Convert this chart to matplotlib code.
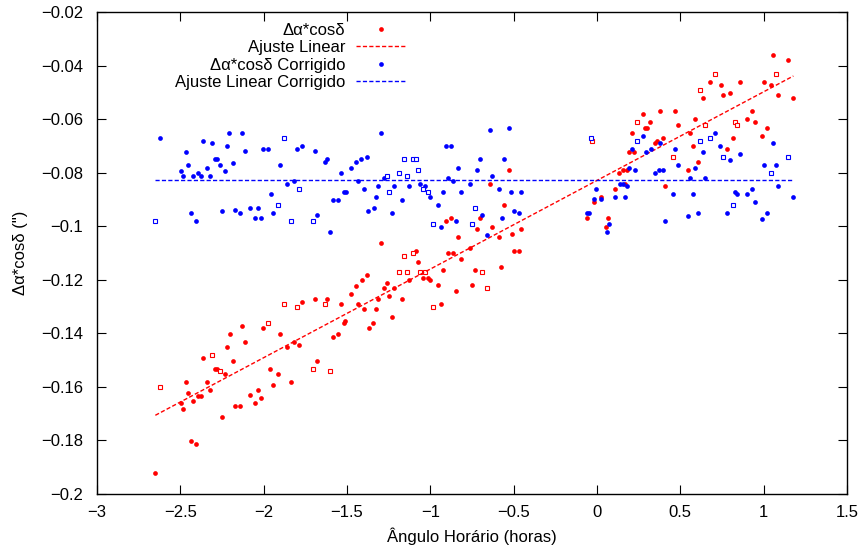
import matplotlib
matplotlib.use("Agg")
import matplotlib.pyplot as plt
import numpy as np

plt.rcParams['font.family'] = ['Liberation Sans', 'DejaVu Sans']

# Delta alpha * cos(delta), filled points
red_x = [-2.650, -2.438, -2.408, -2.250, -2.482, -2.498, -2.422, -2.454, -2.392, -2.376,
         -2.324, -2.468, -2.340, -2.234, -2.292, -2.280, -2.364, -2.186, -2.220, -2.112,
         -2.204, -2.128, -2.004, -1.900, -2.172, -2.142, -2.082, -2.052, -2.032, -2.018,
         -1.946, -1.960, -1.914, -1.834, -1.678, -1.860, -1.818, -1.788, -1.772, -1.692,
         -1.618, -1.538, -1.436, -1.586, -1.554, -1.520, -1.510, -1.478, -1.448,
         -0.528, -0.644, -0.558, -0.702, -0.876, -0.908, -0.718, -0.628, -0.512, -0.454,
         -0.588, -0.832, -1.296, -1.088, -1.074, -0.892, -0.862, -0.816, -0.762, -0.500,
         -0.470, -0.574, -0.732, -0.922, -1.382, -1.412, -1.262, -1.128, -1.046, -1.016,
         -1.000, -0.952, -1.216, -1.280, -1.246, -1.312, -1.172, -0.848, -0.748, -1.400,
         -1.324, -0.936, -1.232, -1.342, -1.368,
         1.058, 1.146, 0.678, 0.742, 0.858, 0.754, 0.798, 0.634, 1.002, 1.044,
         1.086, 1.178, 0.274, 0.378, 0.470, 0.486, 0.318, 0.286, 0.302, 0.210,
         0.590, 0.558, 0.930, 0.898, 0.946, 1.018, 0.990, 0.814, 0.394, 0.358,
         0.346, 0.574, 0.782, 0.190, 0.222, 0.606, 0.546, 0.134, 0.154, 0.178,
         0.170, 0.410, 0.106, 0.026, -0.018, -0.058, 0.068, 0.054]
red_y = [-0.1923, -0.1802, -0.1812, -0.1711, -0.1682, -0.1662, -0.1653, -0.1624, -0.1633, -0.1633,
         -0.1612, -0.1582, -0.1582, -0.1552, -0.1532, -0.1532, -0.1491, -0.1502, -0.1452, -0.1432,
         -0.1401, -0.1372, -0.1381, -0.1401, -0.1671, -0.1671, -0.1631, -0.1662, -0.1612, -0.1643,
         -0.1592, -0.1532, -0.1552, -0.1582, -0.1502, -0.1452, -0.1432, -0.1442, -0.1282, -0.1272,
         -0.1272, -0.1292, -0.1292, -0.1412, -0.1402, -0.1361, -0.1353, -0.1252, -0.1222,
         -0.0791, -0.0841, -0.0921, -0.0970, -0.0970, -0.0982, -0.1012, -0.1002, -0.1030, -0.1012,
         -0.1041, -0.1041, -0.1061, -0.1091, -0.1132, -0.1101, -0.1101, -0.1121, -0.1082, -0.1091,
         -0.1091, -0.1151, -0.1162, -0.1162, -0.1181, -0.1201, -0.1211, -0.1201, -0.1192, -0.1192,
         -0.1201, -0.1221, -0.1231, -0.1231, -0.1260, -0.1270, -0.1270, -0.1241, -0.1221, -0.1310,
         -0.1310, -0.1290, -0.1340, -0.1360, -0.1379,
         -0.0361, -0.0381, -0.0461, -0.0471, -0.0461, -0.0511, -0.0501, -0.0521, -0.0460, -0.0471,
         -0.0511, -0.0521, -0.0581, -0.0571, -0.0571, -0.0622, -0.0611, -0.0632, -0.0632, -0.0651,
         -0.0601, -0.0651, -0.0571, -0.0601, -0.0611, -0.0632, -0.0662, -0.0672, -0.0672, -0.0682,
         -0.0690, -0.0701, -0.0711, -0.0722, -0.0722, -0.0761, -0.0791, -0.0801, -0.0791, -0.0791,
         -0.0841, -0.0851, -0.0861, -0.0891, -0.0911, -0.0970, -0.0970, -0.1002]

# second subset (open squares), same colour
red_sq_x = [-2.622, -2.310, -2.264, -1.974, -1.876, -1.802, -1.632, -1.706, -1.602, -1.156,
            -1.104, -1.186, -1.142, -1.060, -1.032, -0.688, -0.658, -0.986, 0.710, 1.074,
            0.620, 0.242, 0.830, 0.842, 0.650, 0.458, -0.032]
red_sq_y = [-0.1602, -0.1482, -0.1542, -0.1361, -0.1292, -0.1302, -0.1292, -0.1532, -0.1542, -0.1111,
            -0.1101, -0.1171, -0.1171, -0.1171, -0.1171, -0.1171, -0.1232, -0.1300, -0.0430, -0.0430,
            -0.0491, -0.0611, -0.0611, -0.0621, -0.0621, -0.0741, -0.0681]

# corrected values
blue_x = [-2.622, -2.206, -2.128, -2.366, -2.310, -2.220, -2.468, -2.112, -2.004, -1.976,
          -1.802, -1.772, -1.692, -2.292, -2.280, -2.454, -2.186, -2.498, -2.340, -2.264,
          -2.234, -1.900, -1.622, -1.632, -1.448, -1.478, -2.482, -2.422, -2.392, -2.376,
          -2.324, -1.538, -1.432, -1.862, -1.818, -1.958, -1.586, -1.554, -1.520, -1.506,
          -2.438, -2.408, -2.250, -2.172, -2.142, -2.082, -2.032, -2.052, -2.018, -1.946,
          -1.678, -1.602,
          -1.296, -1.416, -1.382, -1.398, -1.312, -1.324, -1.372, -1.338, -1.280, -1.216,
          -1.232, -1.172, -1.128, -1.060, -1.032, -1.000, -0.952, -0.936, -0.908, -0.876,
          -0.922, -0.892, -0.866, -0.832, -0.846, -0.818, -0.762, -0.704, -0.718, -0.642,
          -0.528, -0.558, -0.628, -0.588, -0.514, -0.454, -0.688, -0.572, -0.498, -0.468,
          -0.658,
          -0.004, -0.018, 0.026, -0.058, -0.046, 0.070, 0.058, 0.106, 0.166, 0.138,
          0.158, 0.178, 0.194, 0.226, 0.210, 0.274, 0.294, 0.322, 0.350, 0.374,
          0.394, 0.378, 0.410, 0.470, 0.486, 0.454, 0.558, 0.574, 0.546, 0.606,
          0.590, 0.634, 0.650, 0.710, 0.738, 0.798, 0.858, 0.782, 0.830, 0.842,
          0.898, 0.930, 0.946, 0.990, 1.018, 1.002, 1.058, 1.074, 1.086, 1.178]
blue_y = [-0.0672, -0.0651, -0.0651, -0.0680, -0.0690, -0.0702, -0.0722, -0.0720, -0.0712, -0.0712,
          -0.0712, -0.0702, -0.0720, -0.0750, -0.0750, -0.0771, -0.0763, -0.0792, -0.0781, -0.0771,
          -0.0792, -0.0771, -0.0750, -0.0761, -0.0761, -0.0781, -0.0811, -0.0811, -0.0802, -0.0811,
          -0.0811, -0.0801, -0.0830, -0.0841, -0.0832, -0.0881, -0.0901, -0.0901, -0.0871, -0.0871,
          -0.0951, -0.0982, -0.0943, -0.0941, -0.0952, -0.0931, -0.0931, -0.0970, -0.0970, -0.0952,
          -0.0960, -0.1020,
          -0.0651, -0.0750, -0.0741, -0.0861, -0.0851, -0.0891, -0.0942, -0.0932, -0.0821, -0.0851,
          -0.0952, -0.0901, -0.0851, -0.0841, -0.0851, -0.0891, -0.0921, -0.1002, -0.0702, -0.0702,
          -0.0871, -0.0821, -0.0831, -0.0781, -0.0982, -0.0871, -0.0841, -0.0750, -0.0791, -0.0641,
          -0.0632, -0.0750, -0.0811, -0.0861, -0.0871, -0.0871, -0.0960, -0.0971, -0.0942, -0.0952,
          -0.1031,
          -0.0861, -0.0900, -0.0900, -0.0952, -0.0952, -0.0991, -0.1022, -0.0891, -0.0891, -0.0841,
          -0.0841, -0.0851, -0.0781, -0.0791, -0.0711, -0.0662, -0.0722, -0.0711, -0.0801, -0.0791,
          -0.0791, -0.0690, -0.0981, -0.0711, -0.0771, -0.0881, -0.0821, -0.0881, -0.0962, -0.0952,
          -0.0781, -0.0722, -0.0821, -0.0651, -0.0701, -0.0751, -0.0731, -0.0952, -0.0871, -0.0881,
          -0.0881, -0.0861, -0.0911, -0.0972, -0.0952, -0.0771, -0.0691, -0.0771, -0.0851, -0.0891]

blue_sq_x = [-1.876, -2.652, -1.788, -1.912, -1.834, -1.706, -1.156, -1.104, -1.088, -1.076,
             -1.186, -1.142, -1.260, -1.246, -1.044, -1.016, -0.732, -0.986, -0.748, -0.034,
             0.242, 0.620, 0.678, 0.754, 0.814, 1.044, 1.146]
blue_sq_y = [-0.0672, -0.0982, -0.0861, -0.0922, -0.0982, -0.0982, -0.0750, -0.0750, -0.0750, -0.0791,
             -0.0801, -0.0811, -0.0811, -0.0871, -0.0861, -0.0871, -0.0931, -0.0991, -0.0991, -0.0672,
             -0.0681, -0.0681, -0.0672, -0.0741, -0.0921, -0.0801, -0.0741]

# linear fits (slope, intercept) as shown on the chart
fit_red = (0.0331, -0.0829)
fit_blue = (0.0, -0.0827)

fs = 12

fig = plt.figure(figsize=(8.63, 5.52), dpi=100)
ax = fig.add_axes([0.1124, 0.1051, 0.8691, 0.8732])

all_x = np.array(red_x + red_sq_x)
xf = np.array([all_x.min(), all_x.max()])

ax.plot(red_x, red_y, 'o', color='red', ms=3.4, mew=0, label='Δα*cosδ', zorder=2)
ax.plot(red_sq_x, red_sq_y, 's', color='red', mfc='white', ms=3.4, mew=0.8, zorder=2)
ax.plot(xf, fit_red[0] * xf + fit_red[1], '--', color='red', lw=1.0,
        dashes=(3, 1.6), label='Ajuste Linear', zorder=3)
ax.plot(blue_x, blue_y, 'o', color='blue', ms=3.4, mew=0, label='Δα*cosδ Corrigido', zorder=4)
ax.plot(blue_sq_x, blue_sq_y, 's', color='blue', mfc='white', ms=3.4, mew=0.8, zorder=4)
ax.plot(xf, fit_blue[0] * xf + fit_blue[1], '--', color='blue', lw=1.0,
        dashes=(3, 1.6), label='Ajuste Linear Corrigido', zorder=5)

ax.set_xlim(-3, 1.5)
ax.set_ylim(-0.2, -0.02)
ax.set_xticks(np.arange(-3, 1.51, 0.5))
ax.set_xticklabels(['−3', '−2.5', '−2', '−1.5', '−1', '−0.5', '0', '0.5', '1', '1.5'])
ax.set_yticks(np.arange(-0.2, -0.019, 0.02))
ax.set_yticklabels(['−0.2', '−0.18', '−0.16', '−0.14', '−0.12', '−0.1',
                    '−0.08', '−0.06', '−0.04', '−0.02'])
ax.tick_params(direction='in', length=6.5, width=0.8, top=True, right=True,
               labelsize=fs)
ax.tick_params(axis='x', pad=8)
ax.tick_params(axis='y', pad=10)
for s in ax.spines.values():
    s.set_linewidth(1.0)

ax.set_xlabel('Ângulo Horário (horas)', fontsize=fs, labelpad=5)
ax.set_ylabel('Δα*cosδ (")', fontsize=fs, labelpad=9)

leg = ax.legend(loc='upper right', bbox_to_anchor=(0.427, 1.0), markerfirst=False,
                frameon=False, fontsize=fs, handlelength=3.0, handletextpad=0.65,
                labelspacing=0.15, borderaxespad=0.25, numpoints=1)

fig.savefig('out.png', dpi=100)
